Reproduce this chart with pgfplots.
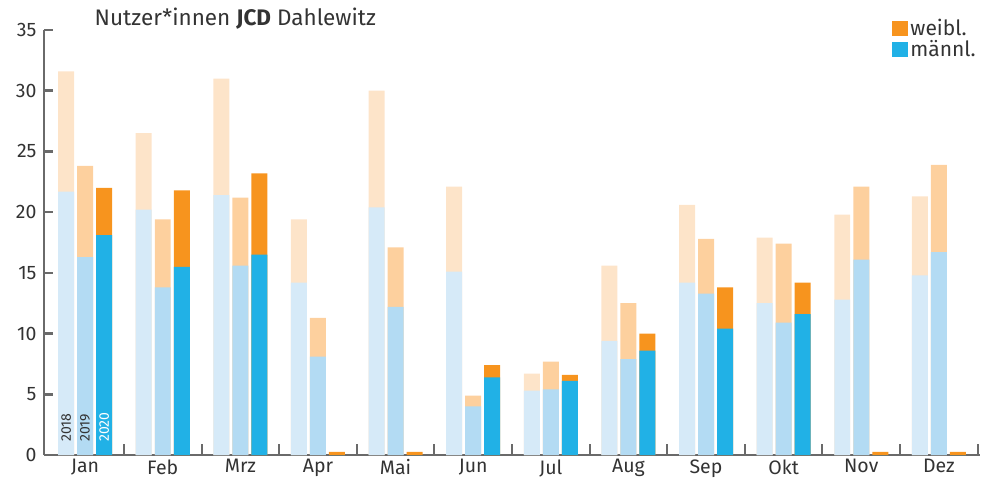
\documentclass[border=0pt]{standalone}
\usepackage{pgfplots}
\pgfplotsset{compat=1.18}
\usepackage{pgfplotstable}
\usepackage{fontspec}
\setmainfont{Fira Sans}
\definecolor{ma}{HTML}{D6EAF8}
\definecolor{fa}{HTML}{FDE4C9}
\definecolor{mb}{HTML}{B3DBF3}
\definecolor{fb}{HTML}{FDD09E}
\definecolor{mc}{HTML}{21B1E6}
\definecolor{fc}{HTML}{F7941E}
\definecolor{axgray}{HTML}{6A6A6A}
\definecolor{txt}{HTML}{333333}
\pgfplotstableread{
i m18 t18 m19 t19 m20 t20
0 21.7 31.6 16.3 23.8 18.1 22.0
1 20.2 26.5 13.8 19.4 15.5 21.8
2 21.4 31.0 15.6 21.2 16.5 23.2
3 14.2 19.4 8.1 11.3 0 0.25
4 20.4 30.0 12.2 17.1 0 0.25
5 15.1 22.1 4.0 4.9 6.4 7.4
6 5.3 6.7 5.4 7.7 6.1 6.6
7 9.4 15.6 7.9 12.5 8.6 10.0
8 14.2 20.6 13.3 17.8 10.4 13.8
9 12.5 17.9 10.9 17.4 11.6 14.2
10 12.8 19.8 16.1 22.1 0 0.25
11 14.8 21.3 16.7 23.9 0 0.25
}\data
\begin{document}
\begin{tikzpicture}
\begin{axis}[
  scale only axis, width=936pt, height=425pt,
  xmin=-0.53, xmax=11.53, ymin=0, ymax=35,
  clip=false,
  ybar, bar width=0.206, bar shift=0pt,
  axis x line*=bottom, axis y line*=left,
  axis line style={-, draw=axgray, line width=2.2pt},
  tick align=inside,
  xtick={0,...,11},
  xticklabels={Jan,Feb,Mrz,Apr,Mai,Jun,Jul,Aug,Sep,Okt,Nov,Dez},
  minor xtick={0.5,1.5,...,11.5},
  xtick style={draw=none},
  minor x tick style={draw=axgray, line width=2pt},
  minor tick length=11pt,
  ytick={0,5,...,35},
  major tick length=9pt,
  y tick style={draw=axgray, line width=2.5pt},
  tick label style={font=\fontsize{19.5}{23}\selectfont, text=txt},
  xticklabel style={yshift=-1pt},
  yticklabel style={xshift=-4pt},
  /pgf/number format/assume math mode=true,
  legend style={draw=none, fill=none, at={(rel axis cs:1.001,1.035)}, anchor=north east,
    font=\fontsize{21}{24}\selectfont, text=txt, row sep=-1pt,
    /tikz/every even column/.append style={column sep=5pt}},
  legend cell align=left,
  legend image code/.code={\fill[#1] (0pt,-7.5pt) rectangle (16pt,7.5pt);},
]
\addplot[fill=fa, draw=none, forget plot] table[x expr=\thisrow{i}-0.245, y=t18] {\data};
\addplot[fill=ma, draw=none, forget plot] table[x expr=\thisrow{i}-0.245, y=m18] {\data};
\addplot[fill=fb, draw=none, forget plot] table[x expr=\thisrow{i}, y=t19] {\data};
\addplot[fill=mb, draw=none, forget plot] table[x expr=\thisrow{i}, y=m19] {\data};
\addplot[fill=fc, draw=none, forget plot] table[x expr=\thisrow{i}+0.245, y=t20] {\data};
\addplot[fill=mc, draw=none, forget plot] table[x expr=\thisrow{i}+0.245, y=m20] {\data};
\addlegendimage{fill=fc, draw=none}
\addlegendentry{weibl.}
\addlegendimage{fill=mc, draw=none}
\addlegendentry{männl.}
\node[rotate=90, anchor=west, font=\fontsize{14}{16}\selectfont, text=txt] at (axis cs:-0.245,0.8) {2018};
\node[rotate=90, anchor=west, font=\fontsize{14}{16}\selectfont, text=txt] at (axis cs:0,0.8) {2019};
\node[rotate=90, anchor=west, font=\fontsize{14}{16}\selectfont, text=white] at (axis cs:0.245,0.8) {2020};
\node[anchor=base west, inner sep=0pt, font=\fontsize{22.5}{26}\selectfont, text=txt] at (rel axis cs:0.054,1.01) {Nutzer*innen \textbf{JCD} Dahlewitz};
\coordinate (bl) at (rel axis cs:0,0);
\coordinate (tr) at (rel axis cs:1,1);
\end{axis}
\path ([shift={(-44pt,-30pt)}]bl) rectangle ([shift={(2pt,30pt)}]tr);
\end{tikzpicture}
\end{document}
